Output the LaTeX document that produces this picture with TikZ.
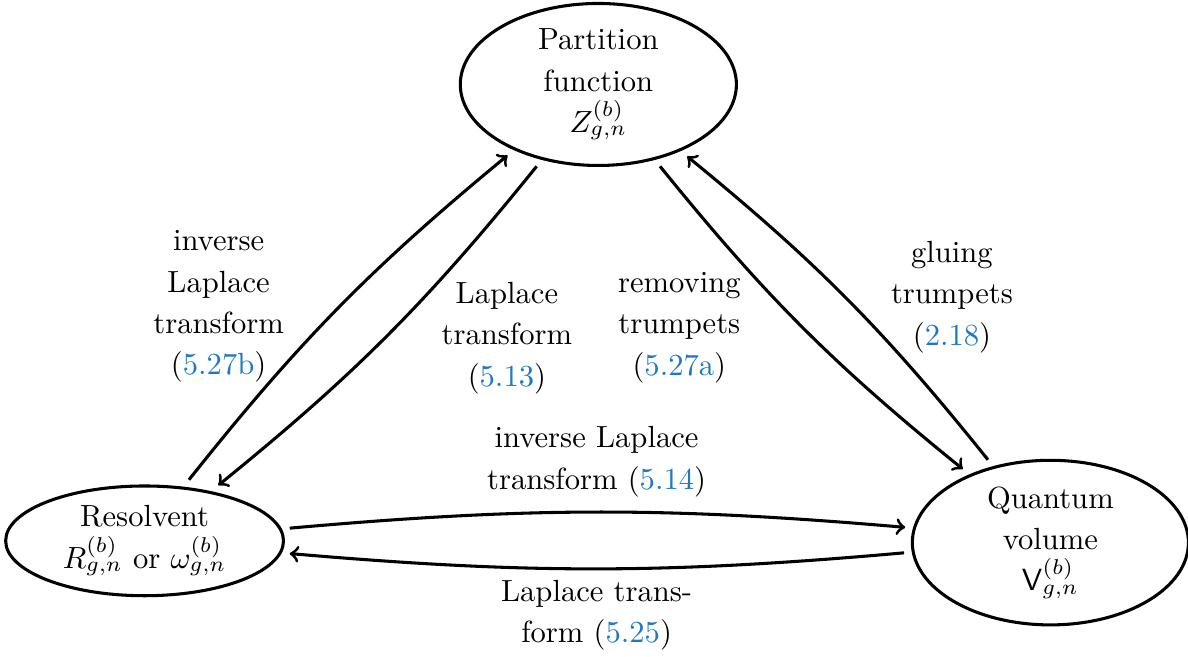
\documentclass[tikz,border=0pt]{standalone}
\usetikzlibrary{shapes.geometric}
\definecolor{eqblue}{RGB}{30,120,195}
\newcommand{\eqnum}[1]{(\textcolor{eqblue}{#1})}

\begin{document}
\begin{tikzpicture}[
  state/.style={draw,line width=1pt,ellipse,inner sep=0pt,outer sep=3pt,align=center,
    font=\fontsize{10}{13.5}\selectfont},
  lab/.style={align=center,font=\fontsize{10}{13.5}\selectfont},
  arr/.style={->,line width=1pt}]
  \useasboundingbox (0,0) rectangle (13.64,7.54);
  % the three objects
  \node[state,minimum width=3.17cm,minimum height=1.86cm] (part) at (6.87,6.57)
    {Partition\\function\\$Z^{(b)}_{g,n}$};
  \node[state,minimum width=3.19cm,minimum height=1.26cm] (res) at (1.66,1.33)
    {Resolvent\\$R^{(b)}_{g,n}$ or $\omega^{(b)}_{g,n}$};
  \node[state,minimum width=3.17cm,minimum height=1.89cm] (quant) at (12.06,1.31)
    {Quantum\\volume\\$\mathsf{V}^{(b)}_{g,n}$};
  % maps between them
  \draw[arr] (res.54) to[bend left=6] (part.218);
  \draw[arr] (part.233) to[bend left=6] (res.37);
  \draw[arr] (part.307) to[bend right=6] (quant.140);
  \draw[arr] (quant.127) to[bend right=6] (part.321);
  \draw[arr] (res.5) to[bend left=5] (quant.174);
  \draw[arr] (quant.184) to[bend left=5] (res.355);
  % labels
  \node[lab] (invlap) at (2.51,4.02) {inverse\\Laplace\\transform\\\eqnum{5.27b}};
  \node[lab] (lap) at (5.82,3.66) {Laplace\\transform\\\eqnum{5.13}};
  \node[lab] (remove) at (7.80,3.78) {removing\\trumpets\\\eqnum{5.27a}};
  \node[lab] (glue) at (10.93,4.13) {gluing\\trumpets\\\eqnum{2.18}};
  \node[lab] (invlapvol) at (6.85,2.24) {inverse Laplace\\transform \eqnum{5.14}};
  \node[lab] (lapvol) at (6.85,0.48) {Laplace trans-\\form \eqnum{5.25}};
\end{tikzpicture}
\end{document}
